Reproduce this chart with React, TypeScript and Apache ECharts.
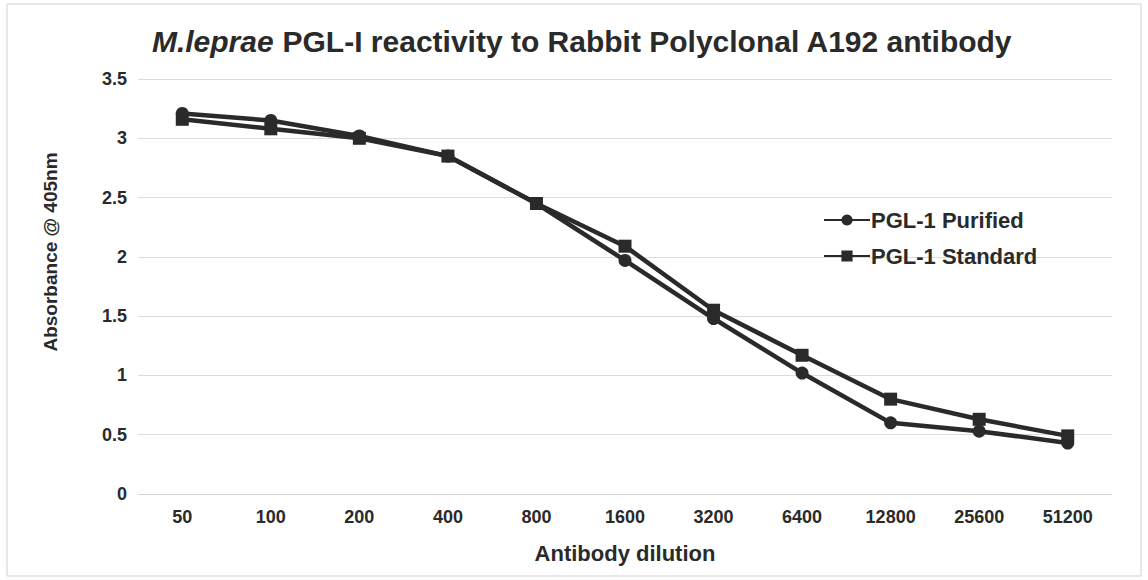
import React, { useEffect, useRef } from "react";
import * as echarts from "echarts";

const dilutions = ["50", "100", "200", "400", "800", "1600", "3200", "6400", "12800", "25600", "51200"];
const purified = [3.21, 3.15, 3.02, 2.85, 2.45, 1.97, 1.48, 1.02, 0.6, 0.53, 0.43];
const standard = [3.16, 3.08, 3.0, 2.85, 2.45, 2.09, 1.55, 1.17, 0.8, 0.63, 0.49];
const seriesNames = ["PGL-1 Purified", "PGL-1 Standard"];
const yAxisTitle = "Absorbance @ 405nm";
const xAxisTitle = "Antibody dilution";

const FONT = "'Liberation Sans', Arial, sans-serif";
const INK = "#2a2a2a";

export default function App() {
  const ref = useRef<HTMLDivElement>(null);
  useEffect(() => {
    if (!ref.current) return;
    const chart = echarts.init(ref.current, null, { renderer: "svg" });
    chart.setOption({
      animation: false,
      backgroundColor: "#fff",
      title: {
        text: "{i|M.leprae} PGL-I reactivity to Rabbit Polyclonal A192 antibody",
        left: 577,
        textAlign: "center",
        top: 21,
        textStyle: {
          fontFamily: FONT,
          fontSize: 30,
          fontWeight: "bold",
          color: INK,
          rich: {
            i: { fontFamily: FONT, fontSize: 30, fontWeight: "bold", fontStyle: "italic", color: INK },
          },
        },
      },
      graphic: [
        {
          type: "rect",
          shape: { x: 7, y: 4, width: 1134, height: 572 },
          style: { fill: "none", stroke: "#d0d0d0", lineWidth: 1 },
        },
        {
          type: "text",
          x: 50,
          y: 252,
          rotation: Math.PI / 2,
          style: {
            text: yAxisTitle,
            textAlign: "center",
            textVerticalAlign: "middle",
            fontFamily: FONT,
            fontSize: 19,
            fontWeight: "bold",
            fill: INK,
          },
        },
      ],
      legend: {
        orient: "vertical",
        left: 818,
        top: 204,
        itemWidth: 46,
        itemHeight: 14,
        itemGap: 14,
        textStyle: { fontFamily: FONT, fontSize: 22, fontWeight: "bold", color: INK, padding: [0, 0, 0, -4] },
        data: seriesNames,
      },
      grid: { left: 138, right: 36, top: 79, bottom: 86 },
      xAxis: {
        type: "category",
        data: dilutions,
        boundaryGap: true,
        axisLine: { show: true, lineStyle: { color: "#d6d6d6", width: 1 } },
        axisTick: { show: false },
        axisLabel: { fontFamily: FONT, fontSize: 18, fontWeight: "bold", color: INK, margin: 14 },
        name: xAxisTitle,
        nameLocation: "middle",
        nameGap: 48,
        nameTextStyle: { fontFamily: FONT, fontSize: 22, fontWeight: "bold", color: INK },
      },
      yAxis: {
        type: "value",
        min: 0,
        max: 3.5,
        interval: 0.5,
        axisLine: { show: false },
        axisTick: { show: false },
        splitLine: { lineStyle: { color: "#dcdcdc", width: 1 } },
        axisLabel: { fontFamily: FONT, fontSize: 18, fontWeight: "bold", color: INK, margin: 11 },
      },
      series: [
        {
          name: seriesNames[0],
          type: "line",
          data: purified,
          symbol: "circle",
          symbolSize: 13,
          lineStyle: { color: INK, width: 4.5 },
          itemStyle: { color: INK },
        },
        {
          name: seriesNames[1],
          type: "line",
          data: standard,
          symbol: "rect",
          symbolSize: 13,
          lineStyle: { color: INK, width: 4.5 },
          itemStyle: { color: INK },
        },
      ],
    });
    return () => chart.dispose();
  }, []);
  return (
    <div
      ref={ref}
      style={{ position: "absolute", left: 0, top: 0, width: 1148, height: 580 }}
    />
  );
}
